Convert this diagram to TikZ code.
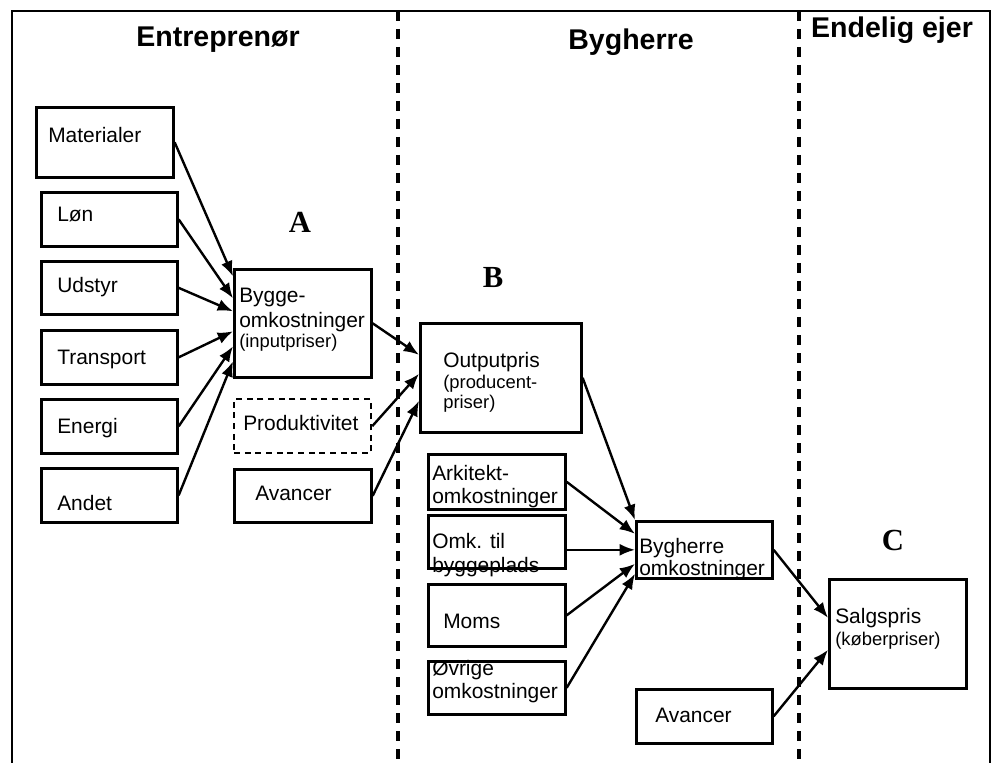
\documentclass[tikz,border=0pt]{standalone}
\usepackage{fontspec}
\setmainfont{Liberation Sans}
\newfontfamily\letterfont{Liberation Serif}
\usetikzlibrary{arrows.meta,calc}
\begin{document}
\begin{tikzpicture}[x=0.75pt,y=-0.75pt,
  box/.style={draw, line width=2pt, inner sep=0pt, anchor=north west},
  sz/.style 2 args={minimum width=#1*0.75pt, minimum height=#2*0.75pt},
  dashbox/.style={box, line width=1.7pt, dash pattern=on 4.5pt off 3.5pt},
  txt/.style={inner sep=0pt, anchor=base west, font=\fontsize{15.7}{18}\selectfont},
  small/.style={inner sep=0pt, anchor=base west, font=\fontsize{13.8}{16}\selectfont},
  title/.style={inner sep=0pt, anchor=base, font=\fontsize{21.4}{25}\selectfont\bfseries},
  letter/.style={inner sep=0pt, anchor=base, font=\fontsize{23}{27}\selectfont\letterfont\bfseries},
  arr/.style={-{Latex[length=11.5pt,width=9pt]}, line width=1.8pt},
  divider/.style={line width=2.4pt, dash pattern=on 7.5pt off 6pt},
  frame/.style={line width=2pt}]

\useasboundingbox (0,0) rectangle (997,763);

% frame and dividers
\coordinate (fbl) at (12,763);
\coordinate (ftl) at (12,11);
\coordinate (ftr) at (990,11);
\coordinate (fbr) at (990,763);
\draw[frame] (fbl) -- (ftl) -- (ftr) -- (fbr);
\coordinate (d1t) at (398,11);
\coordinate (d1b) at (398,763);
\coordinate (d2t) at (799,11);
\coordinate (d2b) at (799,763);
\draw[divider] (d1t) -- (d1b);
\draw[divider] (d2t) -- (d2b);

% titles
\node[title] (t1) at (218,47) {Entreprenør};
\node[title] (t2) at (631,50) {Bygherre};
\node[title] (t3) at (892,38) {Endelig ejer};

% letters
\node[letter] (lA) at (300,233) {A};
\node[letter] (lB) at (493,288) {B};
\node[letter] (lC) at (893,550) {C};

% boxes
\node[box, sz={137}{70}] (mat) at (35,106) {};
\node[box, sz={136}{54}] (lon) at (40,191) {};
\node[box, sz={136}{53}] (uds) at (40,260) {};
\node[box, sz={136}{54}] (tra) at (40,329) {};
\node[box, sz={136}{54}] (ene) at (40,398) {};
\node[box, sz={136}{54}] (and) at (40,467) {};
\node[box, sz={137}{108}] (byg) at (233,268) {};
\node[dashbox, sz={137}{54}] (pro) at (233,398) {};
\node[box, sz={137}{53}] (av1) at (233,468) {};
\node[box, sz={161}{109}] (out) at (419,322) {};
\node[box, sz={137}{55}] (ark) at (427,453) {};
\node[box, sz={137}{53}] (omk) at (427,514) {};
\node[box, sz={137}{62}] (mom) at (427,583) {};
\node[box, sz={137}{53}] (ovr) at (427,660) {};
\node[box, sz={136}{57}] (bho) at (635,520) {};
\node[box, sz={136}{54}] (av2) at (635,688) {};
\node[box, sz={137}{109}] (sal) at (828,578) {};

% texts
\node[txt] (matT) at (48,143) {Materialer};
\node[txt] (lonT) at (57,222) {Løn};
\node[txt] (udsT) at (57,293) {Udstyr};
\node[txt] (traT) at (57,364) {Transport};
\node[txt] (eneT) at (57,433) {Energi};
\node[txt] (andT) at (57,510) {Andet};
\node[txt] (bygT1) at (239,302) {Bygge-};
\node[txt] (bygT2) at (239,327) {omkostninger};
\node[small] (bygT3) at (239,348) {(inputpriser)};
\node[txt] (proT) at (243,430) {Produktivitet};
\node[txt] (av1T) at (255,500) {Avancer};
\node[txt] (outT1) at (443,367) {Outputpris};
\node[small] (outT2) at (443,388) {(producent-};
\node[small] (outT3) at (443,408) {priser)};
\node[txt] (arkT1) at (432,480) {Arkitekt-};
\node[txt] (arkT2) at (432,503) {omkostninger};
\node[txt] (omkT1) at (432,548) {Omk. til};
\node[txt] (omkT2) at (432,572) {byggeplads};
\node[txt] (momT) at (443,628) {Moms};
\node[txt] (ovrT1) at (432,675) {Øvrige};
\node[txt] (ovrT2) at (432,698) {omkostninger};
\node[txt] (bhoT1) at (639,553) {Bygherre};
\node[txt] (bhoT2) at (639,575) {omkostninger};
\node[txt] (av2T) at (655,722) {Avancer};
\node[txt] (salT1) at (835,623) {Salgspris};
\node[small] (salT2) at (835,645) {(køberpriser)};

% arrows
\draw[arr] (mat.east) -- ($(byg.west)+(0,-47)$);
\draw[arr] (lon.east) -- ($(byg.west)+(0,-25)$);
\draw[arr] (uds.east) -- ($(byg.west)+(0,-12)$);
\draw[arr] (tra.east) -- ($(byg.west)+(0,8)$);
\draw[arr] (ene.east) -- ($(byg.west)+(0,23)$);
\draw[arr] (and.east) -- ($(byg.west)+(0,38)$);
\draw[arr] (byg.east) -- ($(out.west)+(0,-23)$);
\draw[arr] (pro.east) -- ($(out.west)+(0,-4)$);
\draw[arr] (av1.east) -- ($(out.west)+(0,23)$);
\draw[arr] (out.east) -- (bho.north west);
\draw[arr] (ark.east) -- ($(bho.west)+(0,-16)$);
\draw[arr] (omk.east |- bho.west) -- (bho.west);
\draw[arr] (mom.east) -- ($(bho.west)+(0,14)$);
\draw[arr] (ovr.east) -- ($(bho.west)+(0,24)$);
\draw[arr] (bho.east) -- ($(sal.west)+(0,-16)$);
\draw[arr] (av2.east) -- ($(sal.west)+(0,16)$);
\end{tikzpicture}
\end{document}
